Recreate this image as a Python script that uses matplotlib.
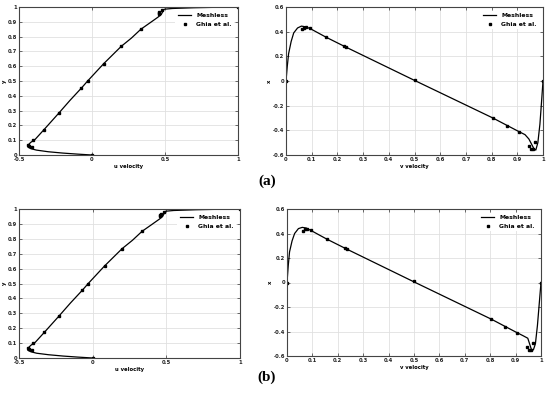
import matplotlib
matplotlib.use("Agg")
import matplotlib.pyplot as plt

# Ghia et al. (Re=5000) reference data
ghia_y = [1.0000, 0.9766, 0.9688, 0.9609, 0.9531, 0.8516, 0.7344, 0.6172, 0.5000,
          0.4531, 0.2813, 0.1719, 0.1016, 0.0703, 0.0625, 0.0547, 0.0000]
ghia_u = [1.0, 0.48223, 0.46120, 0.45992, 0.46036, 0.33556, 0.20087, 0.08183, -0.03039,
          -0.07404, -0.22855, -0.33050, -0.40435, -0.43643, -0.42901, -0.41165, 0.0]
ghia_x = [1.0000, 0.9688, 0.9609, 0.9531, 0.9453, 0.9063, 0.8594, 0.8047, 0.5000,
          0.2344, 0.2266, 0.1563, 0.0938, 0.0781, 0.0703, 0.0625, 0.0000]
ghia_v = [0.0, -0.49774, -0.55069, -0.55408, -0.52876, -0.41442, -0.36214, -0.30018, 0.00945,
          0.27280, 0.28066, 0.35368, 0.42951, 0.43648, 0.43329, 0.42447, 0.0]

# Meshless solution (a)
mesh_u_a = [0.0, -0.10, -0.20, -0.30, -0.38, -0.42, -0.44, -0.44, -0.42, -0.39, -0.33,
            -0.23, -0.15, -0.07, -0.03, 0.08, 0.20, 0.27, 0.335, 0.40, 0.45, 0.475,
            0.485, 0.495, 0.55, 0.70, 0.85, 1.0]
mesh_y_a = [0.0, 0.006, 0.013, 0.022, 0.033, 0.043, 0.055, 0.065, 0.085, 0.105, 0.17,
            0.28, 0.37, 0.455, 0.50, 0.617, 0.734, 0.79, 0.85, 0.895, 0.93, 0.95,
            0.97, 0.985, 0.99, 0.995, 0.998, 1.0]
mesh_x_a = [0.0, 0.005, 0.01, 0.02, 0.03, 0.045, 0.06, 0.075, 0.094, 0.156, 0.23, 0.5,
            0.805, 0.86, 0.906, 0.93, 0.945, 0.955, 0.965, 0.972, 0.98, 0.988, 0.995, 1.0]
mesh_v_a = [0.0, 0.12, 0.22, 0.32, 0.39, 0.43, 0.445, 0.44, 0.425, 0.355, 0.278, 0.005,
            -0.30, -0.36, -0.41, -0.435, -0.47, -0.51, -0.55, -0.56, -0.50, -0.35, -0.15, 0.0]

# Meshless solution (b)
mesh_u_b = [0.0, -0.10, -0.20, -0.30, -0.38, -0.42, -0.44, -0.44, -0.42, -0.39, -0.33,
            -0.23, -0.15, -0.07, -0.03, 0.08, 0.20, 0.27, 0.335, 0.40, 0.45, 0.475,
            0.485, 0.495, 0.55, 0.70, 0.85, 1.0]
mesh_y_b = [0.0, 0.006, 0.013, 0.022, 0.032, 0.042, 0.052, 0.065, 0.085, 0.105, 0.17,
            0.28, 0.37, 0.455, 0.50, 0.617, 0.734, 0.79, 0.85, 0.895, 0.93, 0.95,
            0.97, 0.985, 0.99, 0.995, 0.998, 1.0]
mesh_x_b = [0.0, 0.005, 0.01, 0.02, 0.03, 0.045, 0.06, 0.075, 0.094, 0.156, 0.23, 0.5,
            0.805, 0.86, 0.906, 0.93, 0.948, 0.955, 0.962, 0.97, 0.978, 0.986, 0.994, 1.0]
mesh_v_b = [0.0, 0.14, 0.25, 0.34, 0.40, 0.44, 0.45, 0.445, 0.425, 0.355, 0.278, 0.005,
            -0.30, -0.36, -0.41, -0.435, -0.455, -0.50, -0.545, -0.55, -0.50, -0.35, -0.15, 0.0]

W, H = 550, 397
fig = plt.figure(figsize=(W / 100, H / 100), dpi=100)

def ax_px(l, r, t, b):
    return fig.add_axes([l / W, (H - b) / H, (r - l) / W, (b - t) / H])

FS = 3.8
LFS = 4.4

def style(ax):
    ax.grid(True, color="#e0e0e0", linewidth=0.6)
    ax.set_axisbelow(True)
    ax.tick_params(direction="in", length=2, width=0.5, labelsize=FS, pad=1.2,
                   top=True, right=True, colors="#333333", labelcolor="#222222")
    for lab in ax.get_xticklabels() + ax.get_yticklabels():
        lab.set_fontweight("bold")
    for s in ax.spines.values():
        s.set_linewidth(0.8)
        s.set_color("#444444")

def fmt(v):
    s = f"{v:.1f}"
    if s in ("0.0", "-0.0"):
        return "0"
    if s == "1.0":
        return "1"
    return s

def add_legend(ax):
    leg = ax.legend(loc="upper right", frameon=True, framealpha=1,
                    edgecolor="white", handlelength=2.2, borderaxespad=0.6,
                    prop={"weight": "bold", "size": LFS})
    leg.get_frame().set_linewidth(0)

def left_plot(ax, mu, my):
    ax.plot(mu, my, color="black", linewidth=0.9, label="Meshless")
    ax.plot(ghia_u, ghia_y, linestyle="none", marker="s", markersize=1.8,
            color="black", label="Ghia et al.")
    ax.set_xlim(-0.5, 1)
    ax.set_ylim(0, 1)
    xt = [-0.5, 0, 0.5, 1]
    yt = [i / 10 for i in range(11)]
    ax.set_xticks(xt)
    ax.set_xticklabels([fmt(v) for v in xt])
    ax.set_yticks(yt)
    ax.set_yticklabels([fmt(v) for v in yt])
    ax.set_xlabel("u velocity", fontsize=FS, fontweight="bold", labelpad=1.5)
    ax.set_ylabel("y", fontsize=FS, fontweight="bold", labelpad=1)
    style(ax)
    add_legend(ax)

def right_plot(ax, mx, mv):
    ax.plot(mx, mv, color="black", linewidth=0.9, label="Meshless")
    ax.plot(ghia_x, ghia_v, linestyle="none", marker="s", markersize=1.8,
            color="black", label="Ghia et al.")
    ax.set_xlim(0, 1)
    ax.set_ylim(-0.6, 0.6)
    xt = [i / 10 for i in range(11)]
    yt = [-0.6, -0.4, -0.2, 0, 0.2, 0.4, 0.6]
    ax.set_xticks(xt)
    ax.set_xticklabels([fmt(v) for v in xt])
    ax.set_yticks(yt)
    ax.set_yticklabels([fmt(v) for v in yt])
    ax.set_xlabel("v velocity", fontsize=FS, fontweight="bold", labelpad=1.5)
    ax.set_ylabel("x", fontsize=FS, fontweight="bold", labelpad=1)
    style(ax)
    add_legend(ax)

ax1 = ax_px(19, 238, 7, 155)
left_plot(ax1, mesh_u_a, mesh_y_a)
ax2 = ax_px(286, 543, 7, 155)
right_plot(ax2, mesh_x_a, mesh_v_a)
ax3 = ax_px(19, 240, 209, 358)
left_plot(ax3, mesh_u_b, mesh_y_b)
ax4 = ax_px(287, 541, 209, 356)
right_plot(ax4, mesh_x_b, mesh_v_b)

fig.text(267 / W, 1 - 181 / H, "(a)", ha="center", va="center", fontsize=11,
         fontweight="bold", family="Liberation Serif")
fig.text(267 / W, 1 - 377 / H, "(b)", ha="center", va="center", fontsize=11,
         fontweight="bold", family="Liberation Serif")

fig.savefig("out.png", dpi=100, facecolor="white")
